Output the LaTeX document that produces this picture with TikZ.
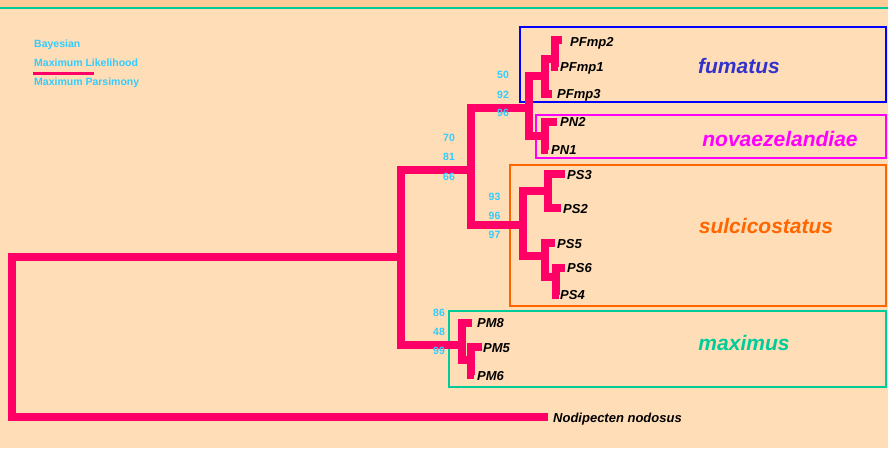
\documentclass[tikz,border=0pt]{standalone}
\usepackage{fontspec}
\setmainfont{Liberation Sans}
\usepackage{xcolor}
\usepackage{tikz}
\usetikzlibrary{calc}
\definecolor{PageBg}{HTML}{FFDDB6}
\definecolor{TopBand}{HTML}{FFCC99}
\definecolor{TreeRed}{HTML}{FF0066}
\definecolor{SupportCyan}{HTML}{33CCFF}
\definecolor{FumBlue}{HTML}{0000FF}
\definecolor{FumText}{HTML}{3333CC}
\definecolor{NovMagenta}{HTML}{FF00FF}
\definecolor{SulOrange}{HTML}{FF6600}
\definecolor{MaxTeal}{HTML}{00CC99}
\newcommand{\taxonfont}{\fontsize{13}{15}\selectfont\bfseries\itshape}
\newcommand{\cladefont}{\fontsize{21}{24}\selectfont\bfseries\itshape}
\newcommand{\supportfont}{\fontsize{10.5}{12}\selectfont\bfseries}
\tikzset{
  branch/.style={draw=TreeRed, line width=7.5pt, line join=miter},
  cladebox/.style={line width=2.2pt},
  taxon/.style={anchor=west, font=\taxonfont, inner sep=0pt, text height=9.3pt, text depth=0pt},
  cladename/.style={font=\cladefont, inner sep=0pt, text height=15.3pt, text depth=0pt},
  support/.style={font=\supportfont, text=SupportCyan, inner sep=0pt, text height=7.6pt, text depth=0pt},
}

\begin{document}
\begin{tikzpicture}[x=1pt,y=-1pt]
  \fill[PageBg] (0,0) rectangle (888,448);
  \fill[TopBand] (0,0) rectangle (888,7);
  \useasboundingbox (0,0) rectangle (888,448);
  \coordinate (bandL) at (0,7.5);
  \coordinate (bandR) at (888,7.5);
  \draw[MaxTeal, line width=2pt] (bandL) -- (bandR);

  % legend
  \node[support, anchor=west] (legBay) at (34,44) {Bayesian};
  \node[support, anchor=west] (legML) at (34,63) {Maximum Likelihood};
  \node[support, anchor=west] (legMP) at (34,82) {Maximum Parsimony};
  \coordinate (mlA) at (33,73.5);
  \coordinate (mlB) at (94,73.5);
  \draw[TreeRed, line width=3pt] (mlA) -- (mlB);

  % clade boxes and names
  \foreach \nm/\ya/\xa/\yb/\col/\tcol/\cx/\cy in {
    fumatus/27/520/102/FumBlue/FumText/739/66,
    novaezelandiae/115/536/158/NovMagenta/NovMagenta/780/139,
    sulcicostatus/165/510/306/SulOrange/SulOrange/766/225.5,
    maximus/311/449/387/MaxTeal/MaxTeal/744/342.5}{
    \draw[cladebox, \col] (\xa,\ya) rectangle (886,\yb);
    \node[cladename, text=\tcol] (c\nm) at (\cx,\cy) {\nm};
  }

  % internal nodes
  \coordinate (root) at (12,337);
  \coordinate (nA) at (401,257);
  \coordinate (nB) at (471,170);
  \coordinate (nC) at (529,108);
  \coordinate (nF) at (545,76);
  \coordinate (nF2) at (555,59);
  \coordinate (nN) at (545,136);
  \coordinate (nS) at (523,225);
  \coordinate (nS1) at (548,191);
  \coordinate (nS2) at (545,256);
  \coordinate (nS3) at (556,277);
  \coordinate (nM) at (462,345);
  \coordinate (nM2) at (471,360);

  % tips and taxon labels
  \foreach \nm/\tx/\ty/\lx/\ly in {
    PFmp2/562/40/570/42, PFmp1/558/67/560/67, PFmp3/552/94/557/94,
    PN2/557/122/560/122, PN1/548/150/551/150,
    PS3/565/174/567/175, PS2/561/208/563/209, PS5/555/243/557/244,
    PS6/565/268/567/268, PS4/559/295/560/295,
    PM8/472/323/477/323, PM5/482/347/483/348, PM6/474/375/477/376}{
    \coordinate (t\nm) at (\tx,\ty);
    \node[taxon] (\nm) at (\lx,\ly) {\nm};
  }
  \coordinate (tNodo) at (548,417);
  \node[taxon] (Nodo) at (553,418) {Nodipecten nodosus};

  % branches
  \foreach \p/\c in {root/nA, root/tNodo, nA/nB, nA/nM, nB/nC, nB/nS,
    nC/nF, nC/nN, nF/nF2, nF/tPFmp3, nF2/tPFmp2, nF2/tPFmp1,
    nN/tPN2, nN/tPN1, nS/nS1, nS/nS2, nS1/tPS3, nS1/tPS2,
    nS2/tPS5, nS2/nS3, nS3/tPS6, nS3/tPS4,
    nM/tPM8, nM/nM2, nM2/tPM5, nM2/tPM6}
    \draw[branch] (\p) |- (\c);

  % support values (Bayesian / ML / MP)
  \foreach \v/\x/\y [count=\i] in {
    50/503/75, 92/503/94.5, 96/503/113,
    70/449/138, 81/449/157, 66/449/177,
    93/494.5/197, 96/494.5/215.5, 97/494.5/234.5,
    86/439/313, 48/439/332, 99/439/351}
    \node[support] (bs\i) at (\x,\y) {\v};
\end{tikzpicture}
\end{document}
